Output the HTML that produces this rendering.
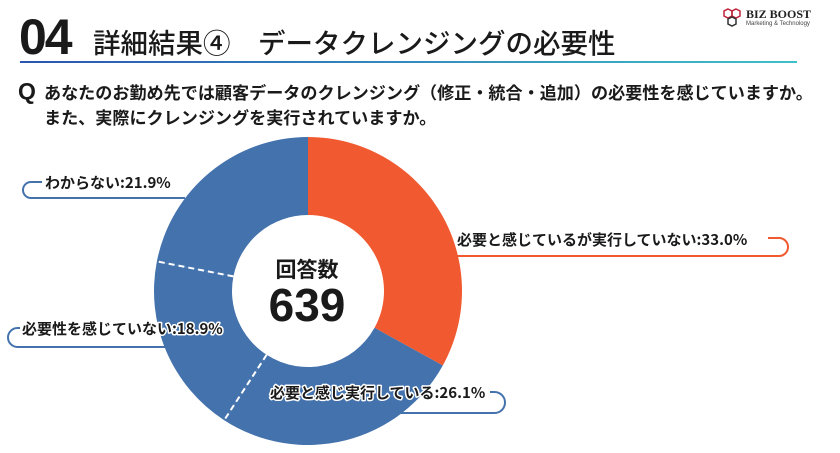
<!DOCTYPE html>
<html><head><meta charset="utf-8">
<style>
html,body{margin:0;padding:0;background:#fff;}
body{width:840px;height:453px;overflow:hidden;position:relative;font-family:"Liberation Sans","Noto Sans CJK JP",sans-serif;color:#1a1a1a;}
.abs{position:absolute;white-space:nowrap;}
</style></head><body>
<div class="abs" style="left:19px;top:10px;font-size:50px;font-weight:bold;line-height:54px;letter-spacing:-2px;">04</div>
<div class="abs" style="left:93px;top:23px;font-size:27.5px;line-height:36px;font-family:'Noto Sans CJK JP',sans-serif;font-weight:500;">詳細結果④　データクレンジングの必要性</div>
<div class="abs" style="left:20px;top:61px;width:777px;height:2px;background:linear-gradient(90deg,#2a55b0,#3fc0c8);"></div>
<div class="abs" style="left:722px;top:7px;width:115px;height:24px;">
<svg width="22" height="20" style="position:absolute;left:0;top:1px"><g fill="none" stroke="#c0243a" stroke-width="1.5"><polygon points="6,1 10,3 10,8 6,10 2,8 2,3"/><polygon points="14,1 18,3 18,8 14,10 10,8 10,3"/><polygon points="10,9 14,11 14,16 10,18 6,16 6,11" stroke="#333"/></g></svg>
<div class="abs" style="left:24px;top:0;font-family:'Liberation Serif',serif;font-weight:bold;font-size:12px;color:#222;">BIZ BOOST</div>
<div class="abs" style="left:24px;top:14px;font-size:6px;color:#444;">Marketing &amp; Technology</div>
</div>
<div class="abs" style="left:18px;top:78px;font-size:23px;font-weight:bold;">Q</div>
<div class="abs" style="left:44px;top:79px;font-size:17.1px;font-weight:bold;line-height:25px;font-family:'Noto Sans CJK JP',sans-serif;">あなたのお勤め先では顧客データのクレンジング（修正・統合・追加）の必要性を感じていますか。<br>また、実際にクレンジングを実行されていますか。</div>

<svg id="chart" width="840" height="453" style="position:absolute;left:0;top:0">
<g id="slices"></g>
<g id="leaders" fill="none" stroke-width="2"></g>
<g id="labels" font-family="Noto Sans CJK JP, sans-serif" font-size="15" font-weight="bold" fill="#1a1a1a" stroke="#fff" stroke-width="3" paint-order="stroke" stroke-linejoin="round"></g>
<text x="307" y="277" text-anchor="middle" font-size="21" font-weight="bold" font-family="Noto Sans CJK JP, sans-serif" fill="#1a1a1a">回答数</text>
<text x="307" y="321" text-anchor="middle" font-size="46" font-weight="bold" font-family="Liberation Sans, sans-serif" fill="#1a1a1a">639</text>
</svg>
<script>
const categories = ["必要と感じているが実行していない","必要と感じ実行している","必要性を感じていない","わからない"];
const values = [33.0, 26.1, 18.9, 21.9];
const colors = ["#F15A30","#4372AD","#4372AD","#4372AD"];
const NS="http://www.w3.org/2000/svg";
const cx=308, cy=291, R=154, r=76;
const total=values.reduce((a,b)=>a+b,0);
function ang(v){return v/total*2*Math.PI - Math.PI/2;}
function pt(a,rad){return [cx+rad*Math.cos(a), cy+rad*Math.sin(a)];}
const gS=document.getElementById('slices');
let acc=0;
values.forEach((v,i)=>{
  const a0=ang(acc), a1=ang(acc+v); acc+=v;
  const [x0,y0]=pt(a0,R),[x1,y1]=pt(a1,R),[x2,y2]=pt(a1,r),[x3,y3]=pt(a0,r);
  const lg=(a1-a0)>Math.PI?1:0;
  const p=document.createElementNS(NS,'path');
  p.setAttribute('d',`M${x0},${y0}A${R},${R} 0 ${lg} 1 ${x1},${y1}L${x2},${y2}A${r},${r} 0 ${lg} 0 ${x3},${y3}Z`);
  p.setAttribute('fill',colors[i]);
  
  
  gS.appendChild(p);
});
acc=0;
values.forEach((v,i)=>{
  acc+=v;
  if(i===1||i===2){
    const a=ang(acc);const [xa,ya]=pt(a,r),[xb,yb]=pt(a,R);
    const l=document.createElementNS(NS,'line');
    l.setAttribute('x1',xa);l.setAttribute('y1',ya);l.setAttribute('x2',xb);l.setAttribute('y2',yb);
    l.setAttribute('stroke','#fff');l.setAttribute('stroke-width','2');l.setAttribute('stroke-dasharray','6,4');
    
    
    gS.appendChild(l);
  }
});
const layout=[
 {tx:457,ty:245,side:'right',lx:768,ly:238,ex:788,ey:256,endx:455},
 {tx:270,ty:398,side:'right',lx:490,ly:392,ex:505,ey:413,endx:345},
 {tx:22,ty:334,side:'left',lx:20,ly:328,ex:8,ey:347,endx:165},
 {tx:45,ty:188,side:'left',lx:42,ly:182,ex:23,ey:198,endx:185}
];
const gL=document.getElementById('leaders'), gT=document.getElementById('labels');
values.forEach((v,i)=>{
  const L=layout[i];
  const p=document.createElementNS(NS,'path');
  const rr=(L.ey-L.ly)/2;
  let d;
  if(L.side==='right') d=`M${L.lx},${L.ly}H${L.ex-rr}A${rr},${rr} 0 0 1 ${L.ex-rr},${L.ey}H${L.endx}`;
  else d=`M${L.lx},${L.ly}H${L.ex+rr}A${rr},${rr} 0 0 0 ${L.ex+rr},${L.ey}H${L.endx}`;
  p.setAttribute('d',d);
  p.setAttribute('stroke',colors[i]);
  
  
  gL.appendChild(p);
  const t=document.createElementNS(NS,'text');
  t.setAttribute('x',L.tx);t.setAttribute('y',L.ty);
  t.textContent=categories[i]+':'+v.toFixed(1)+'%';
  
  
  gT.appendChild(t);
});
</script>
</body></html>
